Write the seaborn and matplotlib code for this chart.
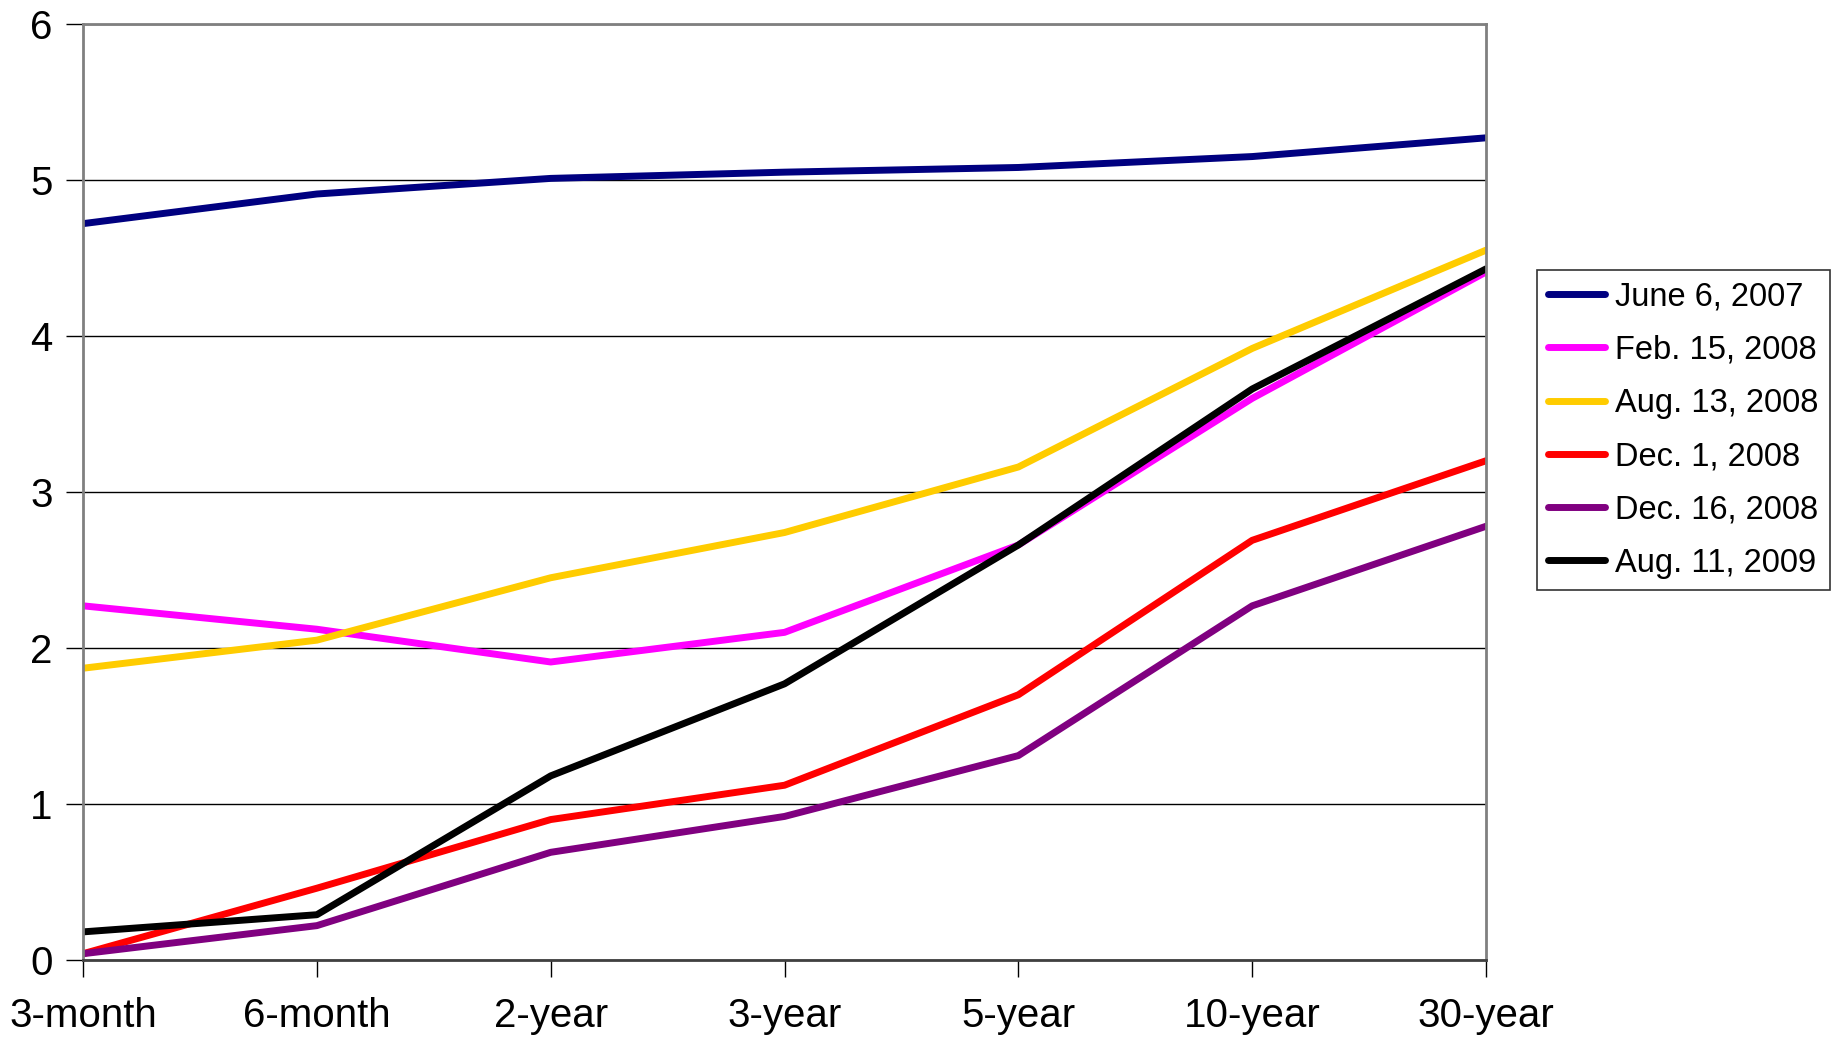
import pandas as pd
import matplotlib.pyplot as plt
import seaborn as sns

maturities = ['3-month', '6-month', '2-year', '3-year', '5-year', '10-year', '30-year']
dates = ['June 6, 2007', 'Feb. 15, 2008', 'Aug. 13, 2008', 'Dec. 1, 2008', 'Dec. 16, 2008', 'Aug. 11, 2009']

june_2007 = [4.72, 4.91, 5.01, 5.05, 5.08, 5.15, 5.27]
feb_2008 = [2.27, 2.12, 1.91, 2.10, 2.66, 3.60, 4.41]
aug_2008 = [1.87, 2.05, 2.45, 2.74, 3.16, 3.92, 4.55]
dec1_2008 = [0.04, 0.46, 0.90, 1.12, 1.70, 2.69, 3.20]
dec16_2008 = [0.04, 0.22, 0.69, 0.92, 1.31, 2.27, 2.78]
aug_2009 = [0.18, 0.29, 1.18, 1.77, 2.66, 3.66, 4.43]

colors = ['#000080', '#FF00FF', '#FFCC00', '#FF0000', '#800080', '#000000']

series = [june_2007, feb_2008, aug_2008, dec1_2008, dec16_2008, aug_2009]
rows = []
for d, vals in zip(dates, series):
    for m, v in zip(maturities, vals):
        rows.append({'maturity': m, 'yield': v, 'date': d})
df = pd.DataFrame(rows)

sns.set_style('white')
plt.rcParams['font.family'] = ['Liberation Sans', 'DejaVu Sans']
plt.rcParams['text.color'] = 'black'
plt.rcParams['xtick.color'] = 'black'
plt.rcParams['ytick.color'] = 'black'

fig, ax = plt.subplots(figsize=(18.46, 10.37), dpi=100)
fig.subplots_adjust(left=0.045, right=0.805, top=0.9769, bottom=0.0743)

sns.lineplot(data=df, x='maturity', y='yield', hue='date', hue_order=dates,
             palette=colors, linewidth=5, sort=False, ax=ax)

ax.set_xlim(0, len(maturities) - 1)
ax.set_ylim(0, 6)
ax.set_yticks(range(0, 7))
ax.yaxis.grid(True, color='black', linewidth=1)
ax.xaxis.grid(False)
ax.set_xlabel('')
ax.set_ylabel('')

for side in ['left', 'right', 'top']:
    ax.spines[side].set_color('#808080')
    ax.spines[side].set_linewidth(2)
ax.spines['bottom'].set_color('#404040')
ax.spines['bottom'].set_linewidth(2)

ax.tick_params(axis='both', which='major', labelsize=29, length=12, width=1,
               color='black', labelcolor='black', direction='out',
               left=True, bottom=True)
ax.tick_params(axis='y', pad=10)
ax.tick_params(axis='x', pad=15)

leg = ax.legend(loc='upper left', bbox_to_anchor=(1.036, 0.737), borderaxespad=0,
                fontsize=23.5, frameon=True, fancybox=False, handlelength=1.75,
                handletextpad=0.3, labelspacing=0.68, borderpad=0.35)
leg.get_frame().set_edgecolor('black')
leg.get_frame().set_linewidth(1.2)
for line in leg.get_lines():
    line.set_linewidth(5)
    line.set_solid_capstyle('round')

plt.savefig('out.png', dpi=100)
